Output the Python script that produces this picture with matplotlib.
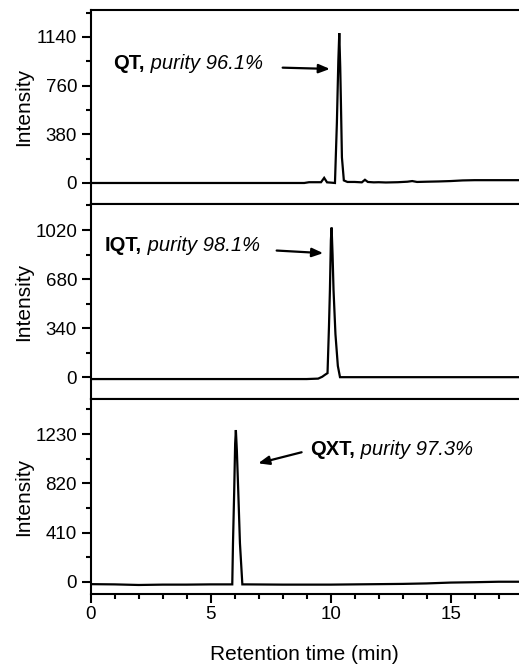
import matplotlib
matplotlib.use("Agg")
import matplotlib.pyplot as plt
from matplotlib.ticker import MultipleLocator, FixedLocator

plt.rcParams["font.family"] = ["Liberation Sans", "DejaVu Sans"]

# Chromatogram traces: retention time (min) and detector intensity
qt_time = [0, 2, 4, 6, 8, 8.9, 9.1, 9.6, 9.73, 9.85, 10.0, 10.18, 10.26, 10.32,
           10.36, 10.40, 10.43, 10.47, 10.55, 10.7, 11.0, 11.3, 11.43, 11.55,
           11.8, 12.0, 12.3, 12.8, 13.2, 13.4, 13.6, 14.0, 14.5, 15.0, 15.5,
           16.0, 17.0, 18.0]
qt_intensity = [0, 0, 0, 0, 0, 0, 6, 6, 40, 5, 3, 0, 470, 950,
                1170, 900, 610, 200, 20, 8, 8, 5, 25, 8,
                5, 6, 4, 6, 10, 15, 8, 10, 12, 15, 20,
                22, 22, 22]

iqt_time = [0, 2, 4, 6, 8, 9.0, 9.48, 9.65, 9.76, 9.87, 9.93, 9.97, 10.01,
            10.04, 10.08, 10.12, 10.2, 10.3, 10.39, 10.6, 12, 14, 16, 18]
iqt_intensity = [-11, -11, -11, -11, -11, -11, -8, 5, 18, 30, 350, 606, 950,
                 1037, 850, 606, 300, 80, 2, 2, 2, 2, 2, 2]

qxt_time = [0, 1, 2, 3, 4, 5, 5.8, 5.90, 5.93, 5.98, 6.02, 6.05, 6.09, 6.15,
            6.22, 6.32, 6.5, 8, 10, 11, 12, 13, 14, 15, 16, 17, 18]
qxt_intensity = [-18, -20, -25, -22, -22, -20, -20, -20, 322, 751, 1150, 1264,
                 1100, 751, 322, -20, -20, -22, -22, -20, -18, -16, -12, -5,
                 -2, 2, 2]

# Per-panel compound name, purity label and y-axis ticks
compounds = ["QT,", "IQT,", "QXT,"]
purity_labels = [" purity 96.1%", " purity 98.1%", " purity 97.3%"]
yticks = [[0, 380, 760, 1140], [0, 340, 680, 1020], [0, 410, 820, 1230]]
xticks = [0, 5, 10, 15]

traces = [(qt_time, qt_intensity), (iqt_time, iqt_intensity),
          (qxt_time, qxt_intensity)]
ylims = [(-164, 1350), (-149, 1200), (-100, 1522)]
label_pos = [(0.94, 890), (0.60, 872), (9.14, 1060)]
arrow_tail = [(8.0, 900), (7.75, 878), (8.79, 1079)]
arrow_head = [(9.97, 890), (9.69, 860), (6.98, 987)]

W, H = 519, 665
fig = plt.figure(figsize=(W / 100, H / 100), dpi=100)

left = 90.7 / W
width = 1.0 - left
bounds_px = [(10, 204), (204, 399), (399, 594)]

LW = 1.5
for i, ((t, y), (top_px, bot_px)) in enumerate(zip(traces, bounds_px)):
    ax = fig.add_axes([left, 1 - bot_px / H, width, (bot_px - top_px) / H])
    ax.plot(t, y, color="black", lw=1.6, solid_joinstyle="miter")
    ax.set_xlim(0, 17.85)
    ax.set_ylim(*ylims[i])

    for s in ["left", "top", "bottom"]:
        ax.spines[s].set_linewidth(LW)
    ax.spines["right"].set_visible(False)

    ax.yaxis.set_major_locator(FixedLocator(yticks[i]))
    step = yticks[i][1] - yticks[i][0]
    ax.yaxis.set_minor_locator(MultipleLocator(step / 2))
    ax.tick_params(axis="y", which="major", direction="out", length=6.3,
                   width=LW, labelsize=13.5, pad=3.5)
    ax.tick_params(axis="y", which="minor", direction="out", length=3.5,
                   width=LW)
    ax.set_ylabel("Intensity", fontsize=15)
    ax.yaxis.set_label_coords(-0.135, 0.5)

    if i < 2:
        ax.tick_params(axis="x", which="both", bottom=False, labelbottom=False)
    else:
        ax.xaxis.set_major_locator(FixedLocator(xticks))
        ax.xaxis.set_minor_locator(MultipleLocator(1))
        ax.tick_params(axis="x", which="major", direction="out", length=6.3,
                       width=LW, labelsize=13.5, pad=2.5)
        ax.tick_params(axis="x", which="minor", direction="out", length=3.8,
                       width=LW)

    name = ax.text(*label_pos[i], compounds[i], fontsize=14.5,
                   fontweight="bold", va="baseline", ha="left")
    ax.annotate(purity_labels[i], xy=(1, 0), xycoords=name, fontsize=14.5,
                style="italic", va="bottom", ha="left")
    ax.annotate("", xy=arrow_head[i], xytext=arrow_tail[i],
                arrowprops=dict(arrowstyle="-|>,head_length=0.55,head_width=0.22",
                                color="black", lw=1.6, mutation_scale=12,
                                shrinkA=0, shrinkB=0))

fig.text((90.7 + 519) / 2 / W, 1 - 660 / H, "Retention time (min)",
         fontsize=15, ha="center", va="baseline")

fig.savefig("out.png", dpi=100)
